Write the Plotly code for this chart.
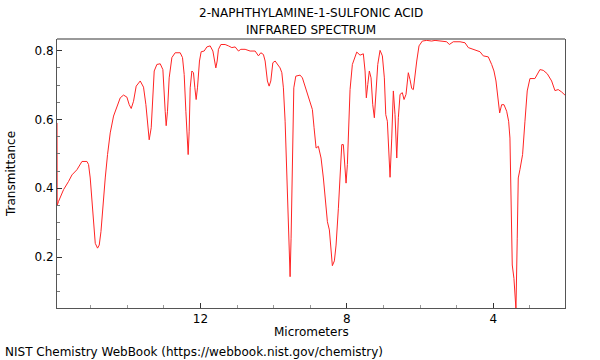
import plotly.graph_objects as go

# Spectrum (wavelength in micrometers, transmittance)
wavelength_um = [
    15.92, 15.915, 15.877, 15.741, 15.604, 15.511, 15.375, 15.238, 15.102, 15.058, 15.012,
    14.965, 14.922, 14.875, 14.812, 14.766, 14.719, 14.665, 14.602, 14.539, 14.466,
    14.375, 14.283, 14.192, 14.102, 14.010, 13.947, 13.892, 13.829, 13.756, 13.646,
    13.556, 13.491, 13.436, 13.401, 13.346, 13.283, 13.264, 13.191, 13.100, 13.027,
    12.991, 12.964, 12.937, 12.901, 12.855, 12.781, 12.691, 12.554, 12.491, 12.445,
    12.399, 12.355, 12.336, 12.309, 12.281, 12.235, 12.191, 12.153, 12.118, 12.082,
    12.027, 11.981, 11.899, 11.825, 11.735, 11.661, 11.618, 11.580, 11.544, 11.509,
    11.443, 11.326, 11.235, 11.143, 11.053, 10.962, 10.897, 10.780, 10.643, 10.507,
    10.416, 10.351, 10.280, 10.233, 10.171, 10.124, 10.078, 10.023, 9.960, 9.898,
    9.825, 9.777, 9.734, 9.687, 9.641, 9.597, 9.551, 9.524, 9.488, 9.450,
    9.395, 9.278, 9.215, 9.142, 9.079, 9.005, 8.942, 8.896, 8.841, 8.778,
    8.705, 8.642, 8.576, 8.532, 8.478, 8.440, 8.396, 8.341, 8.295, 8.232,
    8.186, 8.139, 8.096, 8.049, 8.022, 7.986, 7.940, 7.913, 7.850, 7.730,
    7.640, 7.550, 7.503, 7.468, 7.429, 7.386, 7.339, 7.293, 7.249, 7.203,
    7.156, 7.093, 7.030, 6.976, 6.937, 6.894, 6.856, 6.820, 6.774, 6.730,
    6.684, 6.637, 6.594, 6.547, 6.485, 6.438, 6.384, 6.321, 6.275, 6.228,
    6.184, 6.138, 6.091, 6.029, 5.938, 5.818, 5.682, 5.592, 5.455, 5.272,
    5.201, 5.092, 4.909, 4.772, 4.682, 4.546, 4.363, 4.273, 4.136, 4.044,
    3.981, 3.926, 3.891, 3.852, 3.825, 3.771, 3.707, 3.634, 3.580, 3.544,
    3.517, 3.481, 3.435, 3.399, 3.380, 3.345, 3.317, 3.272, 3.199, 3.134,
    3.072, 2.998, 2.862, 2.725, 2.635, 2.525, 2.405, 2.315, 2.225, 2.132,
    2.041,
]
transmittance = [
    0.590, 0.350, 0.362, 0.396, 0.420, 0.439, 0.454, 0.478, 0.478, 0.469, 0.430,
    0.371, 0.303, 0.240, 0.226, 0.235, 0.274, 0.352, 0.430, 0.498, 0.561,
    0.610, 0.634, 0.663, 0.671, 0.665, 0.643, 0.632, 0.653, 0.697, 0.712,
    0.694, 0.643, 0.566, 0.541, 0.576, 0.702, 0.741, 0.760, 0.762, 0.745,
    0.692, 0.624, 0.582, 0.624, 0.721, 0.780, 0.794, 0.794, 0.780, 0.731,
    0.624, 0.517, 0.498, 0.566, 0.692, 0.741, 0.736, 0.692, 0.658, 0.692,
    0.770, 0.797, 0.799, 0.811, 0.814, 0.799, 0.770, 0.750, 0.770, 0.804,
    0.818, 0.818, 0.814, 0.809, 0.811, 0.799, 0.804, 0.804, 0.799, 0.799,
    0.785, 0.794, 0.789, 0.770, 0.712, 0.697, 0.712, 0.765, 0.770, 0.762,
    0.750, 0.736, 0.692, 0.595, 0.449, 0.274, 0.143, 0.255, 0.546, 0.692,
    0.726, 0.729, 0.721, 0.697, 0.673, 0.653, 0.629, 0.576, 0.517, 0.522,
    0.488, 0.430, 0.362, 0.303, 0.279, 0.216, 0.175, 0.189, 0.235, 0.342,
    0.430, 0.527, 0.527, 0.469, 0.415, 0.469, 0.624, 0.687, 0.760, 0.796,
    0.787, 0.791, 0.741, 0.663, 0.702, 0.741, 0.721, 0.643, 0.605, 0.673,
    0.760, 0.801, 0.785, 0.721, 0.614, 0.595, 0.517, 0.432, 0.546, 0.683,
    0.614, 0.488, 0.605, 0.673, 0.678, 0.658, 0.673, 0.736, 0.716, 0.690,
    0.687, 0.731, 0.770, 0.814, 0.828, 0.830, 0.828, 0.830, 0.828, 0.826,
    0.818, 0.826, 0.826, 0.823, 0.809, 0.804, 0.797, 0.785, 0.782, 0.760,
    0.741, 0.712, 0.683, 0.643, 0.619, 0.643, 0.643, 0.624, 0.595, 0.546,
    0.352, 0.177, 0.138, 0.060, 0.048, 0.255, 0.430, 0.454, 0.498, 0.595,
    0.683, 0.719, 0.719, 0.745, 0.743, 0.733, 0.712, 0.684, 0.687, 0.680,
    0.671,
]

x_tick_vals = [12, 8, 4]
y_tick_vals = [0.2, 0.4, 0.6, 0.8]

title_lines = ["2-NAPHTHYLAMINE-1-SULFONIC ACID", "INFRARED SPECTRUM"]
x_title = "Micrometers"
y_title = "Transmittance"
credit = "NIST Chemistry WebBook (https://webbook.nist.gov/chemistry)"

FONT = "DejaVu Sans"
W, H = 600, 360
ML, MR, MT, MB = 57, 35, 39, 52
PW, PH = W - ML - MR, H - MT - MB


def px_x(p):
    return (p - ML) / PW


def px_y(p):
    return (H - MB - p) / PH


fig = go.Figure()
fig.add_trace(go.Scatter(
    x=wavelength_um, y=transmittance, mode="lines",
    line=dict(color="#ff2424", width=1), hoverinfo="skip", showlegend=False,
))

txt = dict(family=FONT, size=12, color="black")
annotations = [
    dict(text=title_lines[0], x=px_x(311), y=px_y(13)),
    dict(text=title_lines[1], x=px_x(311), y=px_y(30)),
    dict(text=x_title, x=px_x(311), y=px_y(332)),
    dict(text=y_title, x=px_x(11), y=px_y(174), textangle=-90),
    dict(text=credit, x=px_x(3), y=px_y(352), xanchor="left"),
]
for a in annotations:
    a.setdefault("xanchor", "center")
    a.update(xref="paper", yref="paper", yanchor="middle", showarrow=False, font=txt)

fig.update_layout(
    width=W, height=H,
    margin=dict(l=ML, r=MR, t=MT, b=MB, autoexpand=False),
    paper_bgcolor="white", plot_bgcolor="white",
    font=txt,
    hovermode=False,
    xaxis=dict(
        range=[15.92, 2.04], tickvals=x_tick_vals, ticktext=[str(v) for v in x_tick_vals],
        ticks="inside", ticklen=5, tickcolor="#333", showgrid=False, zeroline=False,
        showline=True, linecolor="#555", linewidth=1, mirror=False, automargin=False,
        minor=dict(dtick=1, tick0=0, ticks="inside", ticklen=3, tickcolor="#999", showgrid=False),
        tickfont=txt,
    ),
    yaxis=dict(
        range=[0.052, 0.834], tickvals=y_tick_vals, ticktext=["0.2", "0.4", "0.6", "0.8"],
        ticks="inside", ticklen=5, tickcolor="#333", showgrid=False, zeroline=False,
        showline=True, linecolor="#555", linewidth=1, mirror=True, automargin=False,
        minor=dict(dtick=0.05, tick0=0, ticks="inside", ticklen=3, tickcolor="#777", showgrid=False),
        tickfont=txt,
    ),
    shapes=[dict(type="line", xref="paper", yref="paper", x0=0, x1=1, y0=1, y1=1,
                 line=dict(color="#999", width=2))],
    annotations=annotations,
)

fig.write_html("out.html", config={"displayModeBar": False, "staticPlot": True},
               post_script="document.body.style.margin='0';")
